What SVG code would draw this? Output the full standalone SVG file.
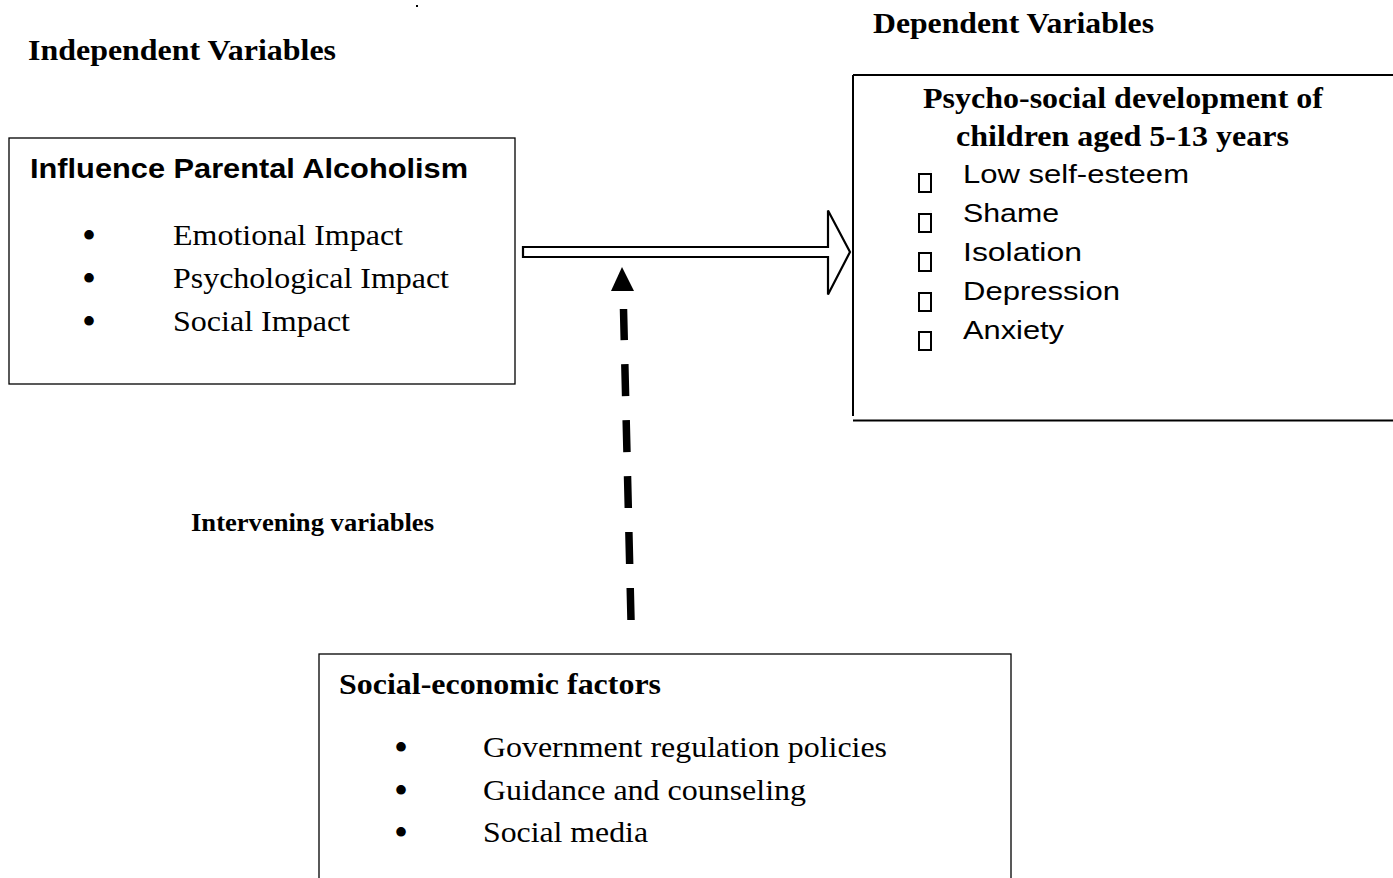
<svg xmlns="http://www.w3.org/2000/svg" width="1393" height="878" viewBox="0 0 1393 878">
<style>
.hd{font-family:"Liberation Serif",serif;font-weight:bold;font-size:29px;fill:#000}
.ser{font-family:"Liberation Serif",serif;font-size:30px;fill:#000}
.bul{font-family:"Liberation Serif",serif;font-size:40px;fill:#000}
.serb{font-family:"Liberation Serif",serif;font-weight:bold;font-size:30px;fill:#000}
.sans{font-family:"Liberation Sans",Arial,sans-serif;font-size:26px;fill:#000}
.sansb{font-family:"Liberation Sans",Arial,sans-serif;font-weight:bold;font-size:28px;fill:#000}
.box{fill:#fff;stroke:#000;stroke-width:1.3}
.tofu{fill:none;stroke:#000;stroke-width:2}
</style>
<rect width="1393" height="878" fill="#fff"/>
<rect x="416" y="5" width="2" height="2" fill="#000"/>
<text class="hd" x="28" y="60" textLength="308" lengthAdjust="spacingAndGlyphs">Independent Variables</text>
<text class="hd" x="873" y="33" textLength="281" lengthAdjust="spacingAndGlyphs">Dependent Variables</text>
<text x="191" y="531" textLength="243" lengthAdjust="spacingAndGlyphs" style="font-family:'Liberation Serif',serif;font-weight:bold;font-size:25px">Intervening variables</text>

<g id="independent">
<rect class="box" x="9" y="138" width="506" height="246"/>
<text class="sansb" x="30" y="178" textLength="438" lengthAdjust="spacingAndGlyphs">Influence Parental Alcoholism</text>
<text class="bul" x="82" y="249">•</text><text class="ser" x="173" y="245" textLength="230" lengthAdjust="spacingAndGlyphs">Emotional Impact</text>
<text class="bul" x="82" y="292">•</text><text class="ser" x="173" y="288" textLength="276" lengthAdjust="spacingAndGlyphs">Psychological Impact</text>
<text class="bul" x="82" y="335">•</text><text class="ser" x="173" y="331" textLength="177" lengthAdjust="spacingAndGlyphs">Social Impact</text>
</g>

<g id="dependent">
<path d="M853 75 V416 M853 75 H1393 M853 420.5 H1393" fill="none" stroke="#000" stroke-width="2"/>
<text class="serb" x="923" y="108" textLength="400" lengthAdjust="spacingAndGlyphs">Psycho-social development of</text>
<text class="serb" x="956" y="146" textLength="333" lengthAdjust="spacingAndGlyphs">children aged 5-13 years</text>
<rect class="tofu" x="919" y="174" width="12" height="18"/>
<rect class="tofu" x="919" y="214" width="12" height="18"/>
<rect class="tofu" x="919" y="253" width="12" height="18"/>
<rect class="tofu" x="919" y="293" width="12" height="18"/>
<rect class="tofu" x="919" y="332" width="12" height="18"/>
<text class="sans" x="963" y="183" textLength="226" lengthAdjust="spacingAndGlyphs">Low self-esteem</text>
<text class="sans" x="963" y="222" textLength="96" lengthAdjust="spacingAndGlyphs">Shame</text>
<text class="sans" x="963" y="261" textLength="119" lengthAdjust="spacingAndGlyphs">Isolation</text>
<text class="sans" x="963" y="300" textLength="157" lengthAdjust="spacingAndGlyphs">Depression</text>
<text class="sans" x="963" y="339" textLength="101" lengthAdjust="spacingAndGlyphs">Anxiety</text>
</g>

<g id="intervening">
<rect class="box" x="319" y="654" width="692" height="240"/>
<text class="serb" x="339" y="694" textLength="322" lengthAdjust="spacingAndGlyphs">Social-economic factors</text>
<text class="bul" x="394" y="761">•</text><text class="ser" x="483" y="757" textLength="404" lengthAdjust="spacingAndGlyphs">Government regulation policies</text>
<text class="bul" x="394" y="804">•</text><text class="ser" x="483" y="800" textLength="323" lengthAdjust="spacingAndGlyphs">Guidance and counseling</text>
<text class="bul" x="394" y="846">•</text><text class="ser" x="483" y="842" textLength="165" lengthAdjust="spacingAndGlyphs">Social media</text>
</g>

<g id="connectors">
<path d="M523 247 H828 V210.5 L850 252 L828 294.5 V257 H523 Z" fill="#fff" stroke="#000" stroke-width="2.2" stroke-linejoin="miter"/>
<line x1="631" y1="620" x2="623.5" y2="309" stroke="#000" stroke-width="7.5" stroke-dasharray="32 24"/>
<polygon points="622,267 611,291 634,291" fill="#000"/>
</g>
</svg>
